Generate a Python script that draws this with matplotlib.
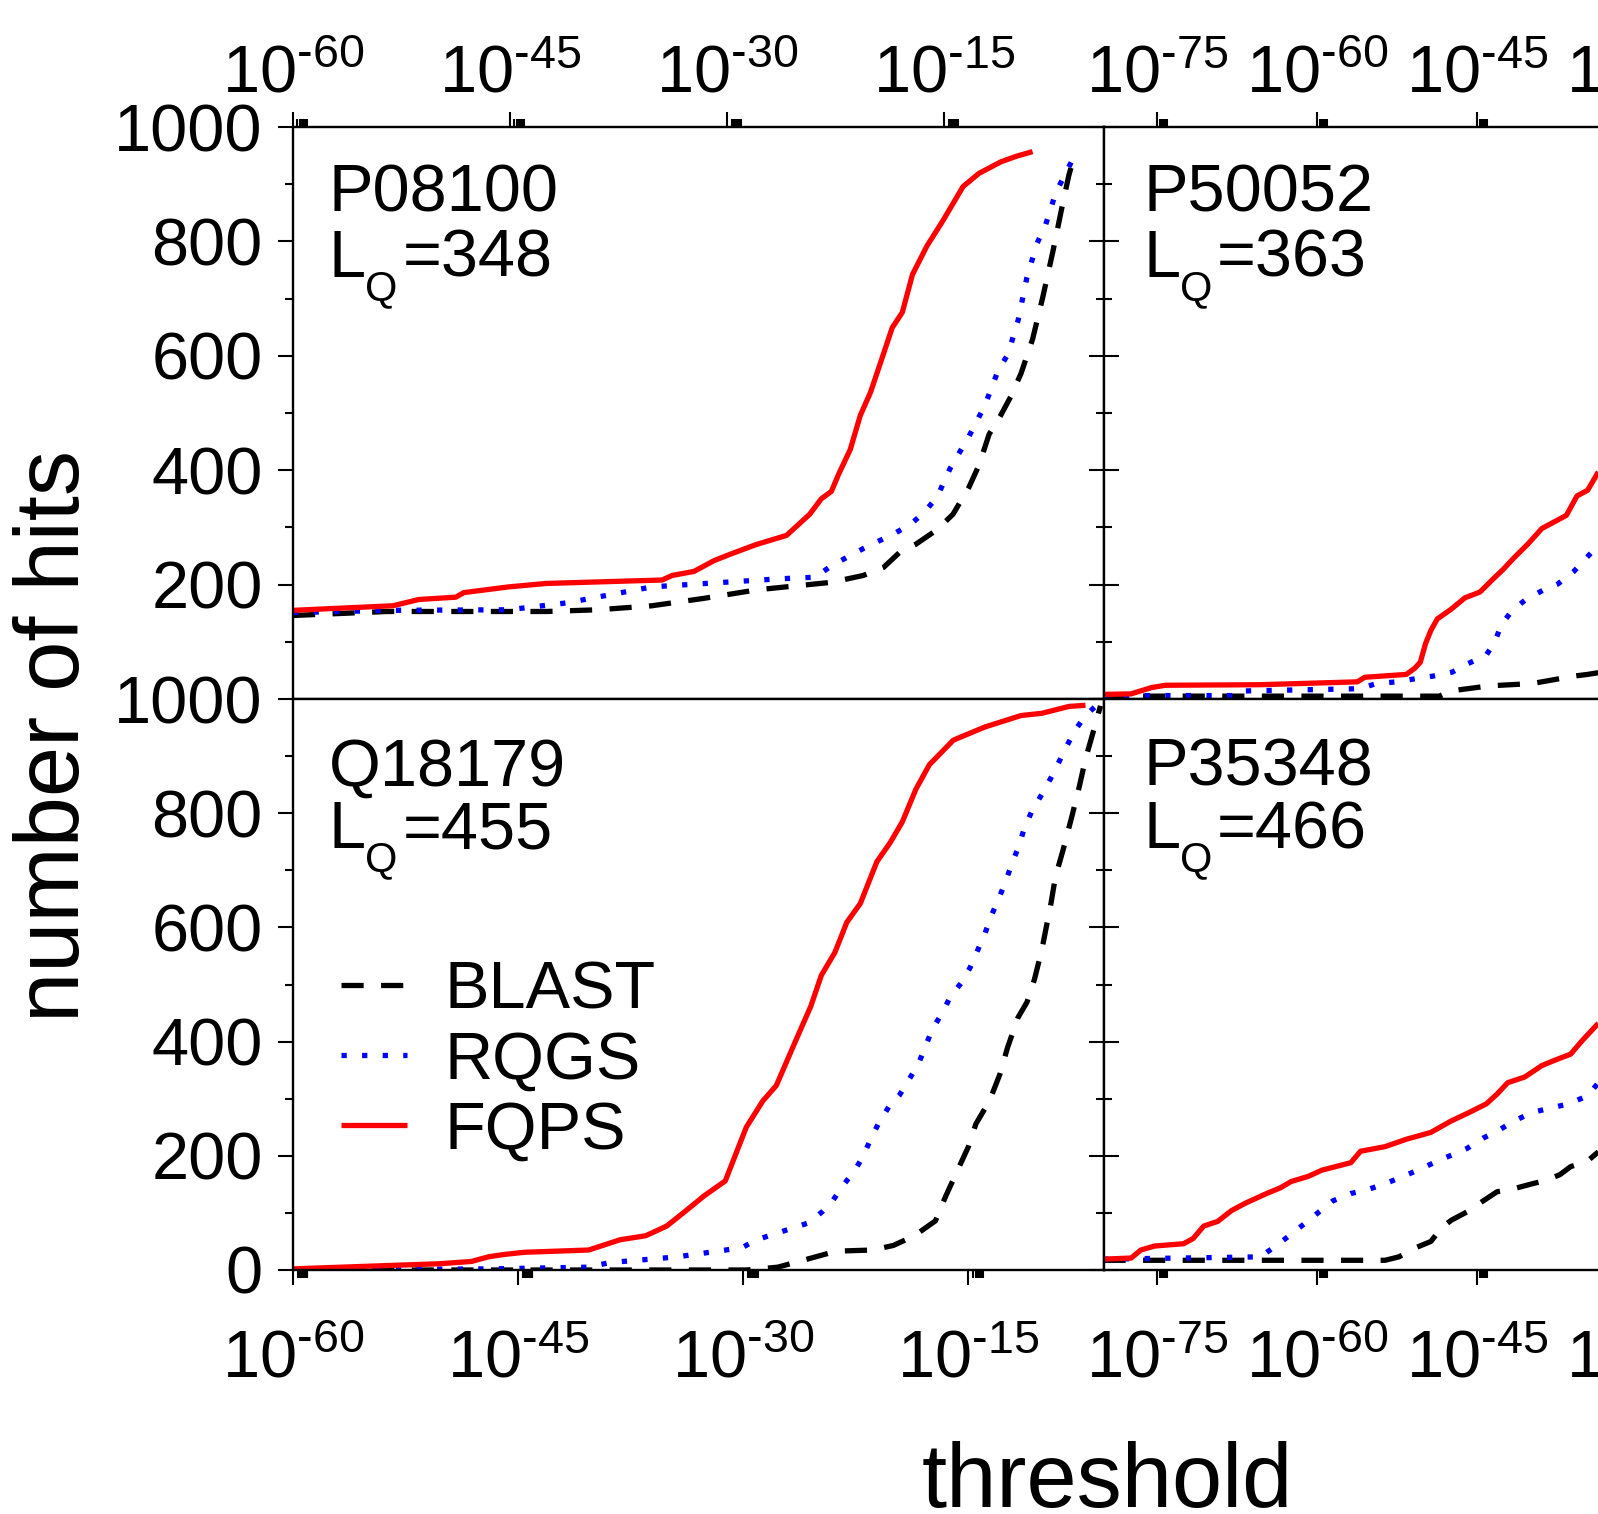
import matplotlib
matplotlib.use('Agg')
import matplotlib.pyplot as plt
import numpy as np
from matplotlib.ticker import FixedLocator, FuncFormatter, NullFormatter

plt.rcParams['font.family'] = 'Liberation Sans'
plt.rcParams['mathtext.fontset'] = 'custom'
plt.rcParams['mathtext.rm'] = 'Liberation Sans'
plt.rcParams['mathtext.it'] = 'Liberation Sans:italic'
plt.rcParams['mathtext.bf'] = 'Liberation Sans:bold'

# ---------------- data (threshold given as log10 exponent) ----------------
# P08100 (top left)
tl_fqps_exp = [-60, -53.1, -51.3, -48.75, -48.2, -45.1, -42.5, -34.5, -33.8, -32.3, -30.9, -29.8, -28.0, -25.9, -24.3,
               -23.5, -22.8, -22.3, -21.5, -20.8, -20.1, -19.3, -18.6, -17.9, -17.2, -16.2, -15.1, -14.4, -13.7, -12.6,
               -11.1, -10.0, -8.9]
tl_fqps = [155, 163, 174, 178, 186, 196, 202, 208, 216, 223, 242, 253, 270, 286, 323,
           350, 363, 393, 436, 496, 536, 596, 649, 676, 742, 792, 836, 866, 896, 919,
           939, 949, 957]
tl_blast_exp = [-60, -53.5, -42.5, -38.9, -35.2, -31.6, -27.9, -22.8, -20.6, -19.2, -18.1, -17.0, -15.5, -14.4, -13.3,
                -12.6, -11.9, -11.1, -10.4, -9.7, -8.9, -8.2, -7.5, -6.9, -6.4, -6.1]
tl_blast = [146, 153, 153, 156, 163, 176, 191, 204, 216, 230, 256, 270, 296, 323, 370,
            409, 463, 496, 529, 569, 629, 702, 782, 856, 915, 942]
tl_rqgs_exp = [-60, -53.5, -45.1, -41.1, -35.2, -26.5, -23.9, -22.8, -20.6, -18.4, -17.3, -16.4, -15.5, -14.6, -13.3,
               -12.2, -11.3, -10.6, -9.9, -9.3, -8.6, -8.0, -7.3, -6.7, -6.1]
tl_rqgs = [151, 155, 156, 168, 196, 210, 213, 233, 263, 290, 306, 326, 353, 403, 459,
           513, 573, 603, 662, 736, 796, 829, 885, 915, 945]

# Q18179 (bottom left)
bl_fqps_exp = [-60, -50.2, -48.1, -47.0, -46.0, -44.6, -40.3, -38.2, -36.5, -35.1, -34.0, -32.6, -31.2, -30.5, -29.8,
               -28.7, -27.8, -26.6, -25.5, -24.8, -23.9, -23.1, -22.2, -21.1, -20.2, -19.4, -18.5, -17.6, -16.0, -13.9,
               -11.5, -10.1, -8.3, -7.2]
bl_fqps = [2, 11, 15, 23, 27, 31, 35, 53, 60, 77, 100, 130, 156, 203, 250,
           296, 323, 396, 462, 516, 556, 609, 642, 715, 749, 785, 842, 885, 928, 951,
           971, 975, 987, 989]
bl_rqgs_exp = [-60, -46.7, -40.3, -38.9, -34.4, -30.1, -29.1, -27.0, -25.6, -24.7, -24.0, -23.3, -22.6, -22.0, -21.5,
               -21.0, -20.3, -19.6, -18.9, -18.3, -17.4, -16.7, -16.2, -15.5, -14.9, -14.4, -13.9, -13.5, -13.0, -12.5,
               -12.1, -11.6, -11.3, -10.8, -10.0, -9.5, -9.0, -8.5, -7.9, -7.2, -6.5]
bl_rqgs = [0, 2, 5, 13, 23, 39, 53, 71, 83, 103, 123, 150, 173, 200, 230,
           256, 286, 306, 336, 363, 422, 452, 479, 502, 529, 559, 589, 619, 649, 682,
           712, 745, 772, 802, 838, 862, 888, 915, 945, 971, 988]
bl_blast_exp = [-60, -29.8, -27.7, -25.6, -23.8, -21.4, -20.0, -18.6, -17.2, -16.5, -15.7, -15.0, -14.5, -13.6, -12.9,
                -12.4, -11.7, -11.1, -10.6, -10.1, -9.5, -9.2, -8.7, -8.1, -7.6, -7.2, -6.7, -6.2]
bl_blast = [0, 0, 5, 20, 33, 35, 43, 60, 86, 130, 176, 216, 256, 296, 343,
            389, 442, 469, 509, 562, 642, 689, 735, 795, 848, 895, 941, 988]

# P50052 (top right)
tr_fqps_exp = [-80, -77.4, -75.5, -74.2, -65.3, -56.2, -55.5, -51.6, -50.8, -50.3, -49.8, -49.3, -48.7, -47.4, -46.1,
               -44.7, -43.4, -42.5, -41.5, -40.2, -38.9, -37.6, -36.6, -35.6, -34.6, -33.6]
tr_fqps = [8, 9, 20, 24, 25, 30, 38, 43, 54, 64, 97, 120, 140, 157, 177,
           187, 211, 227, 247, 271, 298, 311, 321, 355, 365, 397]
tr_rqgs_exp = [-80, -67.5, -67.0, -56.0, -54.4, -52.5, -50.9, -49.1, -47.3, -45.8, -44.1, -43.3, -42.7, -41.7, -40.4,
               -38.7, -37.4, -35.9, -34.8, -33.6]
tr_rqgs = [6, 6, 14, 18, 27, 30, 35, 40, 47, 62, 77, 100, 130, 154, 174,
           191, 201, 223, 245, 269]
tr_blast_exp = [-80, -48.5, -47.5, -43.8, -39.8, -35.9, -34.6, -33.6]
tr_blast = [5, 5, 14, 23, 27, 40, 43, 46]

# P35348 (bottom right)
br_fqps_exp = [-80, -77.4, -76.5, -75.2, -72.5, -71.6, -70.6, -69.3, -68.0, -66.7, -64.7, -63.4, -62.4, -60.8, -59.5,
               -56.8, -55.9, -53.6, -51.6, -49.3, -47.4, -45.7, -44.1, -43.1, -42.1, -40.5, -38.9, -37.6, -36.2, -35.1,
               -33.6]
br_fqps = [19, 21, 35, 42, 46, 55, 77, 85, 104, 117, 134, 144, 155, 164, 175,
           188, 208, 216, 229, 241, 261, 276, 291, 308, 328, 338, 358, 368, 378, 402,
           432]
br_rqgs_exp = [-80, -65.3, -63.7, -62.1, -60.1, -58.5, -56.8, -55.2, -53.6, -51.9, -50.5, -49.0, -47.4, -45.9, -44.4,
               -43.0, -41.5, -39.8, -38.2, -36.4, -34.6, -33.6]
br_rqgs = [19, 23, 44, 67, 97, 121, 134, 141, 151, 164, 175, 188, 201, 213, 231,
           244, 261, 276, 283, 291, 305, 328]
br_blast_exp = [-80, -53.6, -52.3, -50.6, -49.3, -48.3, -47.4, -45.7, -44.4, -43.1, -41.8, -39.8, -38.5, -37.2, -36.2,
                -34.6, -33.6]
br_blast = [17, 17, 23, 40, 50, 74, 87, 104, 121, 137, 141, 151, 157, 167, 181,
            191, 207]

proteins = ['P08100', 'P50052', 'Q18179', 'P35348']
lengths = [348, 363, 455, 466]
series_names = ['BLAST', 'RQGS', 'FQPS']
left_major_exp = [-60, -45, -30, -15]
right_major_exp = [-75, -60, -45, -30, -15]
y_major = [0, 200, 400, 600, 800, 1000]
y_minor = [100, 300, 500, 700, 900]

# ---------------- figure ----------------
W, H = 1598, 1514
fig = plt.figure(figsize=(W / 100, H / 100), dpi=100)

def frac(x0, y0, x1, y1):
    return [x0 / W, 1 - y1 / H, (x1 - x0) / W, (y1 - y0) / H]

ax_tl = fig.add_axes(frac(293, 127, 1103.5, 699))
ax_bl = fig.add_axes(frac(293, 699, 1103.5, 1270))
ax_tr = fig.add_axes(frac(1103.5, 127, 1914, 699))
ax_br = fig.add_axes(frac(1103.5, 699, 1914, 1270))

LW = 3.8
styles = {
    'BLAST': dict(color='black', lw=LW, dashes=(4.2, 3.3), dash_capstyle='butt'),
    'RQGS': dict(color='#0000ff', lw=LW, dashes=(1.0, 2.9), dash_capstyle='butt'),
    'FQPS': dict(color='#ff0000', lw=LW, solid_capstyle='butt'),
}

panels = [
    (ax_tl, tl_blast_exp, tl_blast, tl_rqgs_exp, tl_rqgs, tl_fqps_exp, tl_fqps),
    (ax_tr, tr_blast_exp, tr_blast, tr_rqgs_exp, tr_rqgs, tr_fqps_exp, tr_fqps),
    (ax_bl, bl_blast_exp, bl_blast, bl_rqgs_exp, bl_rqgs, bl_fqps_exp, bl_fqps),
    (ax_br, br_blast_exp, br_blast, br_rqgs_exp, br_rqgs, br_fqps_exp, br_fqps),
]
for ax, be, bv, re_, rv, fe, fv in panels:
    ax.plot(10.0 ** np.array(be), bv, label='BLAST', **styles['BLAST'])
    ax.plot(10.0 ** np.array(re_), rv, label='RQGS', **styles['RQGS'])
    ax.plot(10.0 ** np.array(fe), fv, label='FQPS', **styles['FQPS'])

def fmt(v, p):
    e = int(round(np.log10(v)))
    return r'$\mathregular{10^{\text{-}%d}}$' % (-e)

def style(ax, lo, hi, majors, top, left_side):
    ax.set_xscale('log')
    ax.set_xlim(10.0 ** lo, 10.0 ** hi)
    ax.set_ylim(0, 1000)
    ax.xaxis.set_major_locator(FixedLocator([10.0 ** e for e in majors]))
    ax.xaxis.set_minor_locator(FixedLocator([k * 10.0 ** e for e in majors for k in range(2, 10)]))
    ax.xaxis.set_major_formatter(FuncFormatter(fmt))
    ax.xaxis.set_minor_formatter(NullFormatter())
    for s in ax.spines.values():
        s.set_linewidth(1.7)
    if top:
        ax.tick_params(axis='x', which='both', top=True, bottom=False, labeltop=True,
                       labelbottom=False, direction='out')
        ax.tick_params(axis='x', which='major', pad=4)
    else:
        ax.tick_params(axis='x', which='both', top=False, bottom=True, labeltop=False,
                       labelbottom=True, direction='out')
        ax.tick_params(axis='x', which='major', pad=32)
    ax.tick_params(axis='x', which='major', length=10.8, width=1.5, labelsize=48)
    ax.tick_params(axis='x', which='minor', length=5.8, width=1.5)
    ax.yaxis.set_minor_locator(FixedLocator(y_minor))
    if left_side:
        ax.yaxis.set_major_locator(FixedLocator(y_major if not top else y_major[1:]))
        ax.tick_params(axis='y', which='both', left=True, right=False, direction='out', width=1.5)
        ax.tick_params(axis='y', which='major', length=10.8, labelsize=48, pad=11)
        ax.tick_params(axis='y', which='minor', length=5.8)
    else:
        ax.yaxis.set_major_locator(FixedLocator(y_major))
        ax.tick_params(axis='y', which='both', left=True, right=False, labelleft=False,
                       direction='inout', width=1.5)
        ax.tick_params(axis='y', which='major', length=21.6)
        ax.tick_params(axis='y', which='minor', length=11.5)

style(ax_tl, -60, -4, left_major_exp, True, True)
style(ax_bl, -60, -6, left_major_exp, False, True)
style(ax_tr, -80, -4, right_major_exp, True, False)
style(ax_br, -80, -4, right_major_exp, False, False)

label_pos = {ax_tl: (0.044, 0.853, 0.738), ax_tr: (0.049, 0.853, 0.738),
             ax_bl: (0.044, 0.849, 0.739), ax_br: (0.049, 0.849, 0.739)}
for ax, name, lq in zip([ax_tl, ax_tr, ax_bl, ax_br], proteins, lengths):
    x, y1, y2 = label_pos[ax]
    ax.text(x, y1, name, transform=ax.transAxes, fontsize=48, va='baseline', ha='left')
    ax.text(x, y2, 'L', transform=ax.transAxes, fontsize=48, va='baseline', ha='left')
    ax.annotate('Q', xy=(x, y2), xycoords='axes fraction', xytext=(26.5, -16.5),
                textcoords='offset points', fontsize=30, va='baseline', ha='left')
    ax.annotate('=%d' % lq, xy=(x, y2), xycoords='axes fraction', xytext=(53, 0),
                textcoords='offset points', fontsize=48, va='baseline', ha='left')

ax_bl.legend(loc='upper left', bbox_to_anchor=(0.059, 0.542), frameon=False, borderpad=0,
             borderaxespad=0, handlelength=1.0, handletextpad=0.55, labelspacing=0.12, fontsize=48)

fig.text(1107 / W, 1 - 1507 / H, 'threshold', fontsize=65, ha='center', va='baseline')
fig.text(55 / W, 1 - 736 / H, 'number of hits', fontsize=65, ha='center', va='center', rotation=90)

fig.savefig('out.png', dpi=100)
